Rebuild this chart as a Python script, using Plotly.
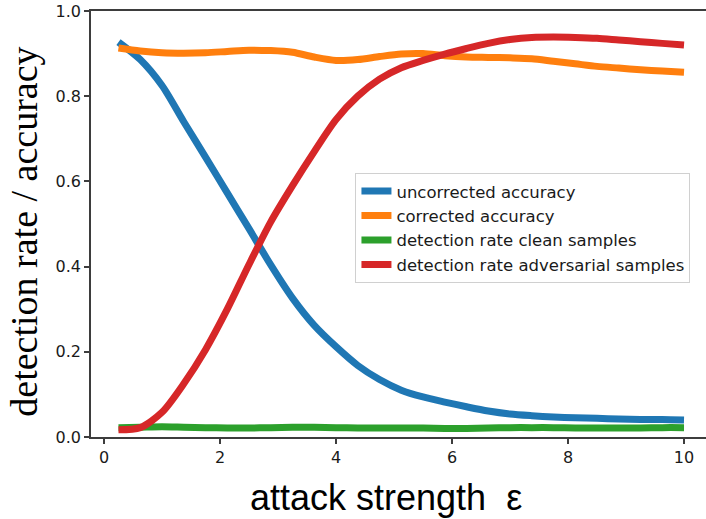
import plotly.graph_objects as go

eps = [0.25, 0.625, 1.0, 1.375, 1.75, 2.125, 2.5, 2.875, 3.25, 3.625, 4.0, 4.375, 4.75,
       5.125, 5.5, 5.875, 6.25, 6.625, 7.0, 7.375, 7.75, 8.125, 8.5, 8.875, 9.25, 9.625, 10.0]

uncorrected = [0.927, 0.886, 0.825, 0.740, 0.657, 0.573, 0.489, 0.404, 0.326, 0.262, 0.212,
               0.168, 0.135, 0.110, 0.094, 0.082, 0.071, 0.061, 0.054, 0.050, 0.047, 0.045,
               0.044, 0.042, 0.041, 0.041, 0.040]
corrected = [0.913, 0.906, 0.902, 0.901, 0.902, 0.905, 0.908, 0.907, 0.903, 0.892, 0.884,
             0.886, 0.893, 0.899, 0.900, 0.895, 0.892, 0.891, 0.890, 0.888, 0.882, 0.876,
             0.870, 0.866, 0.862, 0.859, 0.856]
clean = [0.022, 0.023, 0.024, 0.023, 0.022, 0.021, 0.021, 0.022, 0.023, 0.023, 0.022, 0.021,
         0.021, 0.021, 0.021, 0.020, 0.020, 0.021, 0.022, 0.022, 0.022, 0.021, 0.021, 0.021,
         0.021, 0.022, 0.022]
adversarial = [0.017, 0.022, 0.058, 0.125, 0.205, 0.300, 0.405, 0.505, 0.590, 0.670, 0.745,
               0.800, 0.840, 0.867, 0.884, 0.899, 0.912, 0.924, 0.933, 0.938, 0.939, 0.938,
               0.936, 0.932, 0.928, 0.924, 0.920]

names = ["uncorrected accuracy", "corrected accuracy",
         "detection rate clean samples", "detection rate adversarial samples"]
colors = ["#1f77b4", "#ff7f0e", "#2ca02c", "#d62728"]
series = [uncorrected, corrected, clean, adversarial]

x_ticks = [0, 2, 4, 6, 8, 10]
y_ticks = [0.0, 0.2, 0.4, 0.6, 0.8, 1.0]

fig = go.Figure()
for nm, col, ys in zip(names, colors, series):
    fig.add_trace(go.Scatter(x=eps, y=ys, mode="lines", name=nm,
                             line=dict(color=col, width=7, shape="spline", smoothing=0.8)))

axis_col = "#3d3d3d"
tick_font = dict(family="DejaVu Sans", size=16, color="#1a1a1a")

fig.update_layout(
    width=706, height=519,
    margin=dict(l=91, r=0, t=11, b=82),
    paper_bgcolor="white", plot_bgcolor="white",
    showlegend=True,
    legend=dict(x=0.43, y=0.62, xanchor="left", yanchor="top",
                bordercolor="#d0d0d0", borderwidth=1, bgcolor="rgba(255,255,255,0.8)",
                font=dict(family="DejaVu Sans", size=16.5, color="#1a1a1a"),
                itemwidth=30),
    xaxis=dict(range=[-0.224, 10.379], tickvals=x_ticks, ticktext=[str(v) for v in x_ticks],
               showgrid=False, zeroline=False, showline=True, linecolor=axis_col, linewidth=1.5,
               mirror=True, ticks="outside", ticklen=5, tickwidth=1.5, tickcolor=axis_col,
               tickfont=tick_font),
    yaxis=dict(range=[0, 1], tickvals=y_ticks, ticktext=[f"{v:.1f}" for v in y_ticks],
               showgrid=False, zeroline=False, showline=True, linecolor=axis_col, linewidth=1.5,
               ticks="outside", ticklen=5, tickwidth=1.5, tickcolor=axis_col,
               tickfont=tick_font),
    annotations=[
        dict(text="attack strength\u00a0\u00a0ε", xref="paper", yref="paper",
             x=0.48, y=-0.141, xanchor="center", yanchor="middle", showarrow=False,
             font=dict(family="Liberation Sans", size=36, color="black")),
        dict(text="detection rate / accuracy", xref="paper", yref="paper",
             x=-0.108, y=0.481, xanchor="center", yanchor="middle", showarrow=False,
             textangle=-90,
             font=dict(family="Liberation Serif", size=38, color="black")),
    ],
)

fig.write_html("out.html")
